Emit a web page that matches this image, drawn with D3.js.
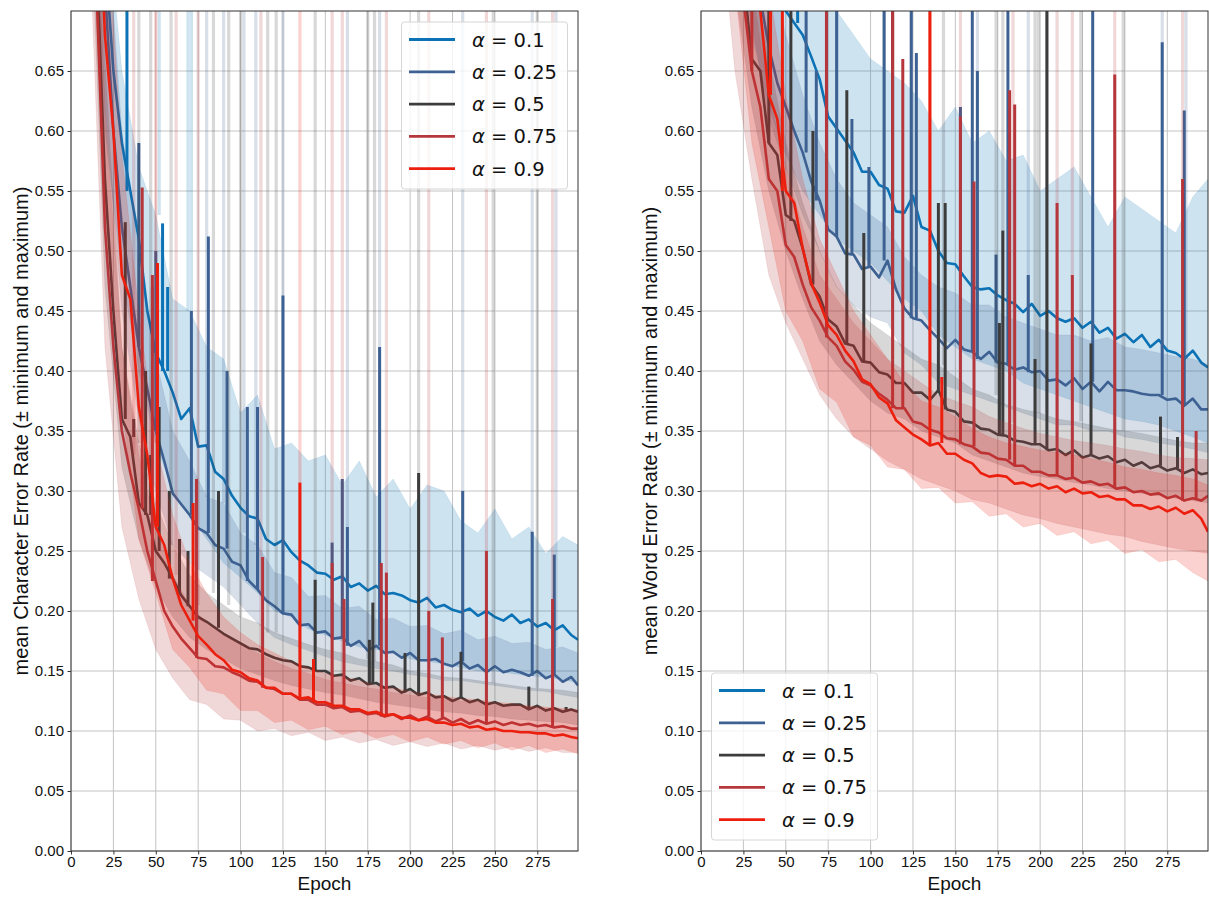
<!DOCTYPE html>
<html><head><meta charset="utf-8">
<script src="https://cdn.jsdelivr.net/npm/d3@7"></script>
<style>body{margin:0;background:#fff;} svg{display:block}</style>
</head><body>
<svg id="chart" width="1209" height="897"></svg>
<script>
// ---------- data ----------
const seriesNames = ["0.1", "0.25", "0.5", "0.75", "0.9"];
const seriesColors = ["#0b72b5", "#3d6192", "#3c3c3c", "#b5373c", "#ec1f0e"];
const xTicks = [0, 25, 50, 75, 100, 125, 150, 175, 200, 225, 250, 275];
const yTicks = [0, 0.05, 0.10, 0.15, 0.20, 0.25, 0.30, 0.35, 0.40, 0.45, 0.50, 0.55, 0.60, 0.65];
const meanEpochs = [10,15,20,25,30,35,40,45,50,55,60,65,70,75,80,85,90,95,100,105,110,115,120,125,130,135,140,145,150,155,160,165,170,175,180,185,190,195,200,205,210,215,220,225,230,235,240,245,250,255,260,265,270,275,280,285,290,295,299];
const bandEpochs = [10,20,30,40,50,60,70,80,90,100,110,120,130,140,150,160,170,180,190,200,210,220,230,240,250,260,270,280,290,299];

// Character error rate: means
const cerMean01 = [1.0,0.86,0.75,0.65,0.59,0.55,0.51,0.45,0.415,0.40,
  0.382,0.36,0.369,0.337,0.338,0.316,0.31,0.296,0.286,0.279,
  0.277,0.26,0.255,0.259,0.249,0.242,0.238,0.232,0.231,0.226,
  0.229,0.22,0.223,0.217,0.221,0.214,0.215,0.213,0.209,0.207,
  0.211,0.203,0.205,0.201,0.199,0.202,0.196,0.2,0.195,0.192,
  0.197,0.19,0.193,0.187,0.19,0.184,0.188,0.18,0.176];
const cerMean025 = [1.0,0.88,0.72,0.6,0.52,0.47,0.42,0.385,0.35,0.325,
  0.298,0.289,0.28,0.269,0.265,0.255,0.252,0.241,0.238,0.225,
  0.218,0.209,0.204,0.198,0.197,0.188,0.189,0.182,0.183,0.177,
  0.178,0.171,0.175,0.167,0.171,0.165,0.166,0.161,0.165,0.159,
  0.159,0.16,0.156,0.154,0.158,0.152,0.155,0.149,0.154,0.149,
  0.151,0.149,0.146,0.15,0.144,0.147,0.141,0.145,0.138];
const cerMean05 = [1.0,0.75,0.56,0.45,0.36,0.345,0.29,0.28,0.25,0.24,
  0.227,0.213,0.204,0.195,0.191,0.186,0.181,0.177,0.173,0.169,
  0.168,0.164,0.161,0.159,0.158,0.154,0.153,0.15,0.15,0.146,
  0.147,0.142,0.144,0.139,0.14,0.136,0.137,0.132,0.135,0.13,
  0.132,0.128,0.129,0.125,0.128,0.124,0.126,0.122,0.124,0.121,
  0.122,0.122,0.118,0.121,0.117,0.119,0.116,0.118,0.116];
const cerMean075 = [1.0,0.72,0.52,0.42,0.35,0.315,0.285,0.25,0.225,0.2,
  0.187,0.177,0.169,0.161,0.16,0.154,0.153,0.149,0.146,0.142,
  0.141,0.136,0.135,0.131,0.131,0.126,0.126,0.122,0.122,0.119,
  0.12,0.116,0.117,0.114,0.115,0.112,0.114,0.11,0.113,0.109,
  0.112,0.108,0.111,0.107,0.11,0.106,0.109,0.106,0.108,0.105,
  0.107,0.105,0.106,0.104,0.105,0.103,0.104,0.102,0.102];
const cerMean09 = [1.0,0.85,0.68,0.6,0.48,0.46,0.37,0.33,0.27,0.255,
  0.227,0.205,0.192,0.179,0.172,0.164,0.159,0.151,0.149,0.144,
  0.142,0.136,0.136,0.131,0.131,0.127,0.128,0.124,0.124,0.121,
  0.121,0.118,0.118,0.115,0.116,0.113,0.114,0.111,0.111,0.109,
  0.11,0.107,0.107,0.105,0.106,0.103,0.104,0.101,0.102,0.1,
  0.1,0.099,0.099,0.098,0.098,0.096,0.097,0.095,0.094];

// Character error rate: minimum / maximum bands
const cerLow01 = [0.9,0.6,0.48,0.4,0.34,0.3,0.28,0.26,0.24,0.228,0.215,0.2,0.195,0.185,0.18,0.175,0.17,0.168,0.165,0.16,0.158,0.156,0.153,0.15,0.15,0.148,0.146,0.145,0.143,0.14];
const cerHigh01 = [1.0,0.8,0.65,0.57,0.53,0.46,0.45,0.42,0.41,0.365,0.38,0.335,0.34,0.325,0.33,0.305,0.325,0.295,0.31,0.285,0.305,0.3,0.275,0.265,0.285,0.26,0.27,0.248,0.262,0.255];
const cerLow025 = [0.9,0.62,0.45,0.36,0.3,0.255,0.24,0.23,0.22,0.205,0.19,0.178,0.172,0.167,0.162,0.158,0.155,0.152,0.15,0.147,0.145,0.142,0.142,0.14,0.138,0.136,0.134,0.133,0.13,0.128];
const cerHigh025 = [1.0,0.8,0.6,0.5,0.41,0.35,0.325,0.295,0.29,0.265,0.255,0.232,0.228,0.212,0.213,0.202,0.204,0.193,0.194,0.187,0.188,0.181,0.184,0.176,0.179,0.173,0.174,0.168,0.17,0.165];
const cerLow05 = [0.85,0.47,0.32,0.26,0.22,0.195,0.178,0.168,0.16,0.152,0.147,0.142,0.138,0.135,0.132,0.13,0.127,0.124,0.122,0.12,0.118,0.116,0.115,0.113,0.112,0.11,0.109,0.108,0.107,0.105];
const cerHigh05 = [1.0,0.66,0.42,0.34,0.29,0.255,0.23,0.215,0.205,0.195,0.19,0.182,0.177,0.172,0.168,0.165,0.16,0.158,0.155,0.15,0.148,0.145,0.144,0.142,0.14,0.138,0.136,0.135,0.134,0.132];
const cerLow075 = [0.8,0.42,0.27,0.21,0.168,0.144,0.126,0.122,0.11,0.109,0.1,0.102,0.096,0.099,0.092,0.095,0.09,0.093,0.088,0.091,0.087,0.09,0.085,0.088,0.084,0.087,0.083,0.086,0.082,0.082];
const cerHigh075 = [1.0,0.62,0.42,0.33,0.27,0.23,0.205,0.19,0.18,0.172,0.165,0.158,0.152,0.148,0.143,0.14,0.137,0.135,0.132,0.13,0.128,0.127,0.125,0.124,0.122,0.121,0.12,0.119,0.118,0.117];
const cerLow09 = [0.85,0.53,0.37,0.26,0.215,0.168,0.153,0.134,0.131,0.117,0.117,0.107,0.109,0.101,0.104,0.097,0.1,0.094,0.097,0.091,0.095,0.089,0.092,0.086,0.09,0.084,0.088,0.082,0.085,0.081];
const cerHigh09 = [1.0,0.8,0.58,0.45,0.34,0.28,0.24,0.215,0.195,0.182,0.172,0.165,0.158,0.153,0.148,0.145,0.142,0.138,0.136,0.133,0.131,0.129,0.127,0.126,0.124,0.123,0.121,0.12,0.119,0.118];

// Character error rate: spikes of the mean [epoch, value] and epochs whose maximum leaves the chart
const cerSpikes01 = [[33,0.8],[48,0.47],[54,0.523],[57,0.47]];
const cerSpikes025 = [[20,0.8],[40,0.59],[50,0.5],[71,0.45],[81,0.512],[92,0.40],[104,0.37],[110,0.37],[125,0.463],[154,0.257],[160,0.31],[163,0.27],[182,0.42],[231,0.30],[272,0.266],[285,0.247]];
const cerSpikes05 = [[32,0.524],[37,0.36],[44,0.40],[47,0.33],[52,0.37],[58,0.30],[64,0.26],[69,0.25],[87,0.30],[144,0.226],[176,0.176],[178,0.207],[197,0.165],[205,0.315],[230,0.166],[270,0.137],[292,0.12]];
const cerSpikes075 = [[42,0.553],[48,0.48],[74,0.31],[113,0.245],[154,0.24],[161,0.21],[183,0.24],[186,0.232],[211,0.2],[219,0.178],[245,0.25],[284,0.21]];
const cerSpikes09 = [[51,0.49],[72,0.29],[135,0.307],[143,0.16]];
const cerMaxOut01 = [52,69,71];
const cerMaxOut025 = [80,90,102,109,125,163,182,231,272,286];
const cerMaxOut05 = [40,47,59,84,93,100,116,121,144,175,179,205,249,275];
const cerMaxOut075 = [37,62,75,112,154,160,186,211,245,284];
const cerMaxOut09 = [50,135];

// Word error rate: means
const werMean01 = [1.0,0.95,0.88,0.82,0.78,0.76,0.74,0.72,0.7,0.69,
  0.68,0.662,0.643,0.612,0.602,0.592,0.582,0.566,0.566,0.555,
  0.552,0.533,0.532,0.546,0.52,0.517,0.5,0.49,0.489,0.479,
  0.47,0.468,0.469,0.463,0.459,0.456,0.449,0.456,0.446,0.45,
  0.444,0.441,0.444,0.436,0.441,0.432,0.436,0.427,0.431,0.424,
  0.43,0.42,0.426,0.417,0.415,0.41,0.417,0.407,0.403];
const werMean025 = [1.0,0.95,0.9,0.82,0.76,0.71,0.67,0.64,0.62,0.6,
  0.582,0.558,0.542,0.518,0.512,0.498,0.497,0.485,0.487,0.478,
  0.492,0.468,0.452,0.444,0.442,0.434,0.427,0.419,0.426,0.418,
  0.416,0.41,0.416,0.407,0.406,0.401,0.403,0.399,0.4,0.392,
  0.393,0.388,0.394,0.385,0.391,0.383,0.391,0.384,0.384,0.383,
  0.381,0.38,0.38,0.376,0.377,0.371,0.377,0.368,0.368];
const werMean05 = [1.0,0.9,0.78,0.73,0.66,0.65,0.59,0.58,0.53,0.525,
  0.502,0.472,0.462,0.443,0.437,0.423,0.421,0.408,0.407,0.399,
  0.397,0.39,0.39,0.382,0.382,0.376,0.384,0.368,0.366,0.358,
  0.357,0.352,0.351,0.347,0.346,0.342,0.341,0.339,0.339,0.334,
  0.335,0.33,0.334,0.328,0.33,0.327,0.329,0.324,0.326,0.321,
  0.324,0.319,0.321,0.317,0.319,0.315,0.318,0.314,0.315];
const werMean075 = [1.0,0.85,0.74,0.71,0.65,0.62,0.56,0.55,0.505,0.495,
  0.472,0.453,0.442,0.428,0.421,0.408,0.401,0.391,0.388,0.381,
  0.376,0.369,0.369,0.358,0.356,0.351,0.349,0.344,0.343,0.339,
  0.337,0.332,0.331,0.327,0.326,0.321,0.321,0.316,0.316,0.313,
  0.313,0.31,0.311,0.307,0.308,0.305,0.306,0.302,0.303,0.299,
  0.3,0.297,0.298,0.294,0.296,0.292,0.294,0.292,0.296];
const werMean09 = [1.0,0.95,0.87,0.81,0.73,0.7,0.63,0.61,0.55,0.54,
  0.502,0.473,0.457,0.438,0.43,0.417,0.408,0.393,0.389,0.378,
  0.373,0.359,0.353,0.347,0.343,0.338,0.34,0.331,0.331,0.326,
  0.323,0.315,0.312,0.313,0.312,0.306,0.307,0.304,0.306,0.302,
  0.304,0.299,0.302,0.298,0.299,0.295,0.296,0.293,0.293,0.288,
  0.288,0.285,0.287,0.283,0.286,0.281,0.284,0.277,0.266];

// Word error rate: minimum / maximum bands
const werLow01 = [1.0,0.8,0.68,0.62,0.58,0.55,0.53,0.51,0.5,0.49,0.475,0.46,0.45,0.43,0.42,0.41,0.405,0.4,0.39,0.385,0.38,0.375,0.37,0.365,0.36,0.358,0.355,0.35,0.345,0.34];
const werHigh01 = [1.0,1.0,0.95,0.85,0.8,0.76,0.73,0.7,0.68,0.66,0.65,0.64,0.625,0.6,0.62,0.59,0.6,0.575,0.58,0.55,0.56,0.57,0.545,0.52,0.545,0.535,0.525,0.515,0.545,0.56];
const werLow025 = [0.95,0.8,0.69,0.61,0.57,0.53,0.5,0.47,0.455,0.445,0.44,0.415,0.405,0.39,0.385,0.38,0.375,0.37,0.365,0.36,0.355,0.355,0.35,0.35,0.345,0.343,0.34,0.338,0.335,0.332];
const werHigh025 = [1.0,1.0,0.84,0.74,0.68,0.63,0.59,0.56,0.54,0.53,0.52,0.495,0.48,0.47,0.465,0.455,0.455,0.445,0.44,0.435,0.43,0.43,0.425,0.428,0.42,0.418,0.415,0.412,0.41,0.405];
const werLow05 = [0.9,0.72,0.62,0.55,0.5,0.46,0.425,0.405,0.39,0.375,0.365,0.36,0.35,0.345,0.34,0.33,0.325,0.32,0.315,0.312,0.31,0.307,0.305,0.302,0.3,0.298,0.296,0.294,0.292,0.29];
const werHigh05 = [1.0,0.9,0.74,0.66,0.59,0.54,0.5,0.47,0.455,0.44,0.43,0.42,0.41,0.405,0.395,0.385,0.38,0.372,0.368,0.365,0.36,0.358,0.355,0.352,0.35,0.348,0.345,0.342,0.34,0.34];
const werLow075 = [0.8,0.65,0.56,0.48,0.44,0.41,0.38,0.36,0.345,0.335,0.325,0.318,0.31,0.305,0.3,0.293,0.29,0.285,0.28,0.277,0.273,0.27,0.267,0.264,0.262,0.258,0.255,0.252,0.25,0.248];
const werHigh075 = [1.0,0.85,0.72,0.63,0.57,0.52,0.48,0.46,0.44,0.425,0.41,0.4,0.39,0.38,0.375,0.37,0.362,0.357,0.352,0.348,0.345,0.342,0.34,0.338,0.335,0.333,0.33,0.328,0.327,0.326];
const werLow09 = [0.9,0.72,0.59,0.52,0.45,0.425,0.385,0.374,0.345,0.338,0.32,0.318,0.302,0.303,0.29,0.291,0.279,0.281,0.27,0.273,0.263,0.266,0.256,0.259,0.248,0.251,0.241,0.243,0.232,0.225];
const werHigh09 = [1.0,1.0,0.85,0.72,0.63,0.56,0.51,0.48,0.45,0.43,0.41,0.39,0.375,0.37,0.362,0.352,0.345,0.34,0.337,0.334,0.332,0.33,0.327,0.324,0.32,0.318,0.315,0.313,0.31,0.305];

// Word error rate: spikes and epochs whose maximum leaves the chart
const werSpikes01 = [[57,0.8],[74,0.8]];
const werSpikes025 = [[62,0.8],[68,0.65],[80,0.8],[89,0.61],[99,0.57],[108,0.8],[113,0.8],[124,0.8],[127,0.665],[153,0.62],[160,0.8],[163,0.65],[174,0.497],[181,0.8],[193,0.48],[231,0.8],[272,0.674],[285,0.617]];
const werSpikes05 = [[40,0.8],[53,0.8],[66,0.6],[86,0.634],[96,0.515],[140,0.54],[144,0.54],[176,0.44],[178,0.517],[197,0.41],[204,0.8],[230,0.423],[271,0.362],[281,0.345]];
const werSpikes075 = [[30,0.8],[74,0.8],[113,0.8],[119,0.66],[153,0.612],[161,0.558],[182,0.634],[185,0.622],[210,0.54],[219,0.48],[244,0.647],[284,0.56],[292,0.35]];
const werSpikes09 = [[41,0.8],[48,0.75],[135,0.8],[142,0.395]];
const werMaxOut01 = [];
const werMaxOut025 = [80,108,124,163,193,272,286];
const werMaxOut05 = [25,143,174,178,197,199,204,224,249];
const werMaxOut075 = [74,113,153,184,210,219,244,284];
const werMaxOut09 = [135];

// ---------- drawing ----------
const svg = d3.select("#chart");
const yTop = 11, yBot = 851;
const tickFont = "'Liberation Sans', Arial, Helvetica, sans-serif";

const panels = [
  {x0: 71, x1: 578, labelX: 21, ylabel: "mean Character Error Rate (± minimum and maximum)",
   means: [cerMean01, cerMean025, cerMean05, cerMean075, cerMean09],
   lows: [cerLow01, cerLow025, cerLow05, cerLow075, cerLow09],
   highs: [cerHigh01, cerHigh025, cerHigh05, cerHigh075, cerHigh09],
   spikes: [cerSpikes01, cerSpikes025, cerSpikes05, cerSpikes075, cerSpikes09],
   maxOut: [cerMaxOut01, cerMaxOut025, cerMaxOut05, cerMaxOut075, cerMaxOut09],
   legend: {x: 401.5, y: 22, w: 166, h: 167}},
  {x0: 701, x1: 1208, labelX: 650, ylabel: "mean Word Error Rate (± minimum and maximum)",
   means: [werMean01, werMean025, werMean05, werMean075, werMean09],
   lows: [werLow01, werLow025, werLow05, werLow075, werLow09],
   highs: [werHigh01, werHigh025, werHigh05, werHigh075, werHigh09],
   spikes: [werSpikes01, werSpikes025, werSpikes05, werSpikes075, werSpikes09],
   maxOut: [werMaxOut01, werMaxOut025, werMaxOut05, werMaxOut075, werMaxOut09],
   legend: {x: 711.5, y: 673, w: 166, h: 167}}
];

function nearest(epochs, vals, e) {
  const k = d3.minIndex(epochs, d => Math.abs(d - e));
  return vals[k];
}

panels.forEach((p, pi) => {
  const x = d3.scaleLinear().domain([0, 299]).range([p.x0, p.x1]);
  const y = d3.scaleLinear().domain([0, 0.7]).range([yBot, yTop]);
  const clipId = "clip" + pi;
  svg.append("clipPath").attr("id", clipId).append("rect")
    .attr("x", p.x0).attr("y", yTop).attr("width", p.x1 - p.x0).attr("height", yBot - yTop);

  // grid
  const grid = svg.append("g");
  grid.selectAll(null).data(xTicks).join("line")
    .attr("x1", d => x(d)).attr("x2", d => x(d)).attr("y1", yTop).attr("y2", yBot)
    .attr("stroke", "#c4c4c4").attr("stroke-width", 1);
  grid.selectAll(null).data(yTicks).join("line")
    .attr("x1", p.x0).attr("x2", p.x1).attr("y1", d => y(d)).attr("y2", d => y(d))
    .attr("stroke", "#c4c4c4").attr("stroke-width", 1);

  const plot = svg.append("g").attr("clip-path", `url(#${clipId})`);
  const area = d3.area().x(d => x(d.e)).y0(d => y(d.lo)).y1(d => y(d.hi));
  const line = d3.line().x(d => x(d.e)).y(d => y(d.v));

  p.means.forEach((m, i) => {
    const col = seriesColors[i];
    const band = bandEpochs.map((e, k) => ({e, lo: p.lows[i][k], hi: p.highs[i][k]}));
    plot.append("path").datum(band).attr("d", area)
      .attr("fill", col).attr("fill-opacity", 0.2).attr("stroke", col).attr("stroke-opacity", 0.12).attr("stroke-width", 0.8);
    plot.selectAll(null).data(p.maxOut[i]).join("rect")
      .attr("x", e => x(e) - 1.6).attr("width", 3.2)
      .attr("y", yTop)
      .attr("height", e => Math.max(0, y(nearest(bandEpochs, p.highs[i], e)) - yTop))
      .attr("fill", col).attr("fill-opacity", 0.2);
    const pts = meanEpochs.map((e, k) => ({e, v: m[k]}));
    plot.append("path").datum(pts).attr("d", line)
      .attr("fill", "none").attr("stroke", col).attr("stroke-width", 2.6)
      .attr("stroke-linejoin", "round");
    plot.selectAll(null).data(p.spikes[i]).join("line")
      .attr("x1", d => x(d[0])).attr("x2", d => x(d[0]))
      .attr("y1", d => y(d[1])).attr("y2", d => y(nearest(meanEpochs, m, d[0])))
      .attr("stroke", col).attr("stroke-width", 3);
  });

  // axes
  const xAxis = d3.axisBottom(x).tickValues(xTicks).tickSize(3.5).tickPadding(2).tickFormat(d3.format("d"));
  const gx = svg.append("g").attr("transform", `translate(0,${yBot})`).call(xAxis);
  const yAxis = d3.axisLeft(y).tickValues(yTicks).tickSize(3.5).tickPadding(3.5).tickFormat(d3.format(".2f"));
  const gy = svg.append("g").attr("transform", `translate(${p.x0},0)`).call(yAxis);
  [gx, gy].forEach(g => {
    g.select(".domain").remove();
    g.selectAll(".tick line").attr("stroke", "#333");
    g.selectAll(".tick text").attr("fill", "#111").style("font-family", tickFont).style("font-size", "15px");
  });

  // frame
  svg.append("rect").attr("x", p.x0).attr("y", yTop).attr("width", p.x1 - p.x0).attr("height", yBot - yTop)
    .attr("fill", "none").attr("stroke", "#333").attr("stroke-width", 1);

  // labels
  svg.append("text").attr("x", (p.x0 + p.x1) / 2).attr("y", 890)
    .attr("text-anchor", "middle").style("font-family", tickFont).style("font-size", "19px").attr("fill", "#111")
    .text("Epoch");
  svg.append("text").attr("transform", `translate(${p.labelX},${(yTop + yBot) / 2}) rotate(-90)`)
    .attr("text-anchor", "middle").attr("dy", "0.35em")
    .style("font-family", tickFont).style("font-size", "20px").attr("fill", "#111")
    .text(p.ylabel);

  // legend
  const L = p.legend;
  const lg = svg.append("g");
  lg.append("rect").attr("x", L.x).attr("y", L.y).attr("width", L.w).attr("height", L.h)
    .attr("rx", 3).attr("fill", "#fff").attr("fill-opacity", 0.8).attr("stroke", "#d6d6d6");
  seriesNames.forEach((name, i) => {
    const cy = L.y + 17.5 + i * 32.3;
    lg.append("line").attr("x1", L.x + 7.5).attr("x2", L.x + 53.5).attr("y1", cy).attr("y2", cy)
      .attr("stroke", seriesColors[i]).attr("stroke-width", 2.8);
    const t = lg.append("text").attr("x", L.x + 70.5).attr("y", cy).attr("dy", "0.36em")
      .style("font-family", "'DejaVu Sans', sans-serif").style("font-size", "19.5px").attr("fill", "#111");
    t.append("tspan").style("font-style", "italic").text("α");
    t.append("tspan").text(" = " + name);
  });
});
</script>
</body></html>
